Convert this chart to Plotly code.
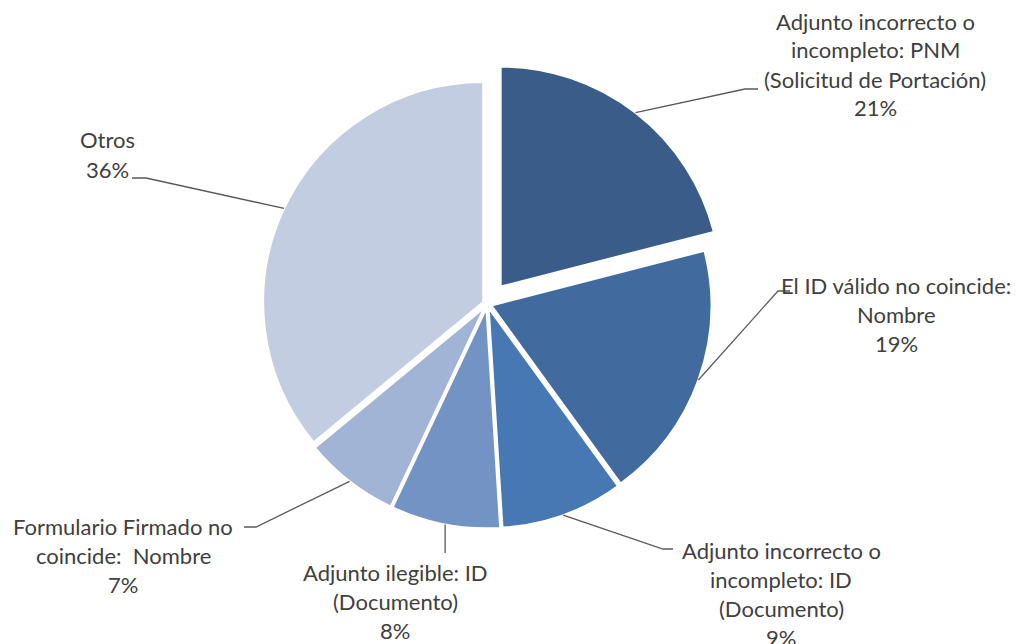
import math
import plotly.graph_objects as go

# ---- data ----
categories = [
    "Adjunto incorrecto o incompleto: PNM (Solicitud de Portación)",
    "El ID válido no coincide: Nombre",
    "Adjunto incorrecto o incompleto: ID (Documento)",
    "Adjunto ilegible: ID (Documento)",
    "Formulario Firmado no coincide:  Nombre",
    "Otros",
]
values = [21, 19, 9, 8, 7, 36]
label_lines = [
    ["Adjunto incorrecto o", "incompleto: PNM", "(Solicitud de Portación)"],
    ["El ID válido no coincide:", "Nombre"],
    ["Adjunto incorrecto o", "incompleto: ID", "(Documento)"],
    ["Adjunto ilegible: ID", "(Documento)"],
    ["Formulario Firmado no", "coincide:  Nombre"],
    ["Otros"],
]

# ---- style / layout ----
colors = ["#3A5C88", "#416B9F", "#4878B3", "#7393C4", "#A2B4D5", "#C2CDE2"]
pulls = [0.1, 0.02, 0.02, 0.02, 0.02, 0.02]
W, H = 1030, 644
dom_x = [0.238, 0.708]
dom_y = [0.152, 0.904]
# label text anchor (center x, first line y) in pixels
label_pos = [(875, 21), (896, 285), (781, 550), (395, 572), (123, 526), (107, 140)]
# leader elbows / ends in pixels (None -> vertical straight line)
leader_pts = [
    [(745, 89), (758, 89)],
    [(778, 291), (790, 291)],
    [(663, 549), (673, 549)],
    None,
    [(256, 527), (244, 527)],
    [(146, 178), (132, 178)],
]
line_h = 29
font_family = "Lato, Open Sans, sans-serif"
font_size = 22
text_color = "#404040"

fig = go.Figure()
fig.add_trace(go.Pie(
    labels=categories, values=values, sort=False, direction="clockwise",
    rotation=0, pull=pulls, textinfo="none", hoverinfo="label+percent",
    marker=dict(colors=colors, line=dict(color="white", width=2)),
    domain=dict(x=dom_x, y=dom_y), showlegend=False,
))

# geometry (mirrors Plotly pie scaling)
box_w = W * (dom_x[1] - dom_x[0])
box_h = H * (dom_y[1] - dom_y[0])
r = min(box_w, box_h) / (2 + 2 * max(pulls))
cx = W * (dom_x[0] + dom_x[1]) / 2
cy = H * (1 - dom_y[0]) - box_h / 2
total = sum(values)

def px(x):
    return x / W

def py(y):
    return 1 - y / H

shapes = []
annotations = []
cum = 0
for i, v in enumerate(values):
    mid = (cum + v / 2) / total
    cum += v
    th = mid * 2 * math.pi
    rr = r * (1 + pulls[i])
    ax = cx + rr * math.sin(th)
    ay = cy - rr * math.cos(th)
    pct = f"{round(100 * v / total)}%"
    lx, ly = label_pos[i]
    pts = leader_pts[i]
    if pts is None:
        pts = [(ax, ly - 19)]
    path = f"M {px(ax)} {py(ay)}"
    for (x, y) in pts:
        path += f" L {px(x)} {py(y)}"
    shapes.append(dict(type="path", path=path, xref="paper", yref="paper",
                       line=dict(color="#595959", width=1.3)))
    for k, t in enumerate(label_lines[i] + [pct]):
        annotations.append(dict(
            x=px(lx), y=py(ly + k * line_h), xref="paper", yref="paper",
            text=t, showarrow=False, xanchor="center", yanchor="middle",
            font=dict(family=font_family, size=font_size, color=text_color)))

fig.update_layout(
    width=W, height=H, margin=dict(l=0, r=0, t=0, b=0),
    paper_bgcolor="white", plot_bgcolor="white",
    shapes=shapes, annotations=annotations,
)
fig.write_html(
    "out.html",
    config={"displayModeBar": False},
    post_script="document.body.style.margin='0';document.body.style.padding='0';",
)
